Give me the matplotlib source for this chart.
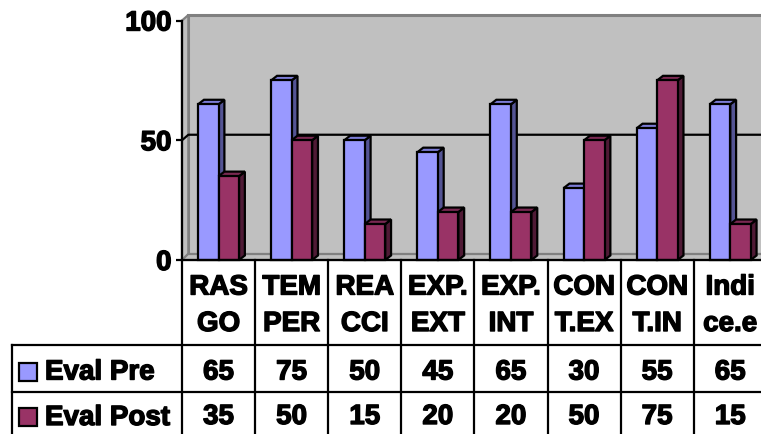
import matplotlib.pyplot as plt
from matplotlib.patches import Polygon, Rectangle
from matplotlib.transforms import blended_transform_factory
import matplotlib.patheffects as pe
import numpy as np

categories = ["RAS\nGO", "TEM\nPER", "REA\nCCI", "EXP.\nEXT", "EXP.\nINT",
              "CON\nT.EX", "CON\nT.IN", "Indi\nce.e"]
series_names = ["Eval Pre", "Eval Post"]
eval_pre = [65, 75, 50, 45, 65, 30, 55, 65]
eval_post = [35, 50, 15, 20, 20, 50, 75, 15]
y_ticks = [0, 50, 100]

# front / side / top shades for each series
front_colors = ["#9999FF", "#993366"]
side_colors = ["#545494", "#4F1A35"]
top_colors = ["#7C7CD6", "#7A2952"]
wall_color = "#C0C0C0"
wall_edge = "#808080"

W, H = 761, 434
plt.rcParams['font.family'] = ['Liberation Sans', 'DejaVu Sans']
plt.rcParams['font.weight'] = 'bold'
FS = 20
heavy = [pe.withStroke(linewidth=1.0, foreground='black')]
LW = 1.6

fig = plt.figure(figsize=(W / 100, H / 100), dpi=100)

# plot area in pixels: left edge 182, zero line at y=260, 100 at y=20.5
cat_px = 73.1
left_px, zero_px, top_px = 182, 260, 20.5
ax = fig.add_axes([left_px / W, 1 - zero_px / H,
                   (W - left_px) / W, (zero_px - top_px) / H])
xmax = (W - left_px) / cat_px
ax.set_xlim(0, xmax)
ax.set_ylim(0, 100)
ax.patch.set_visible(False)
for s in ['top', 'right']:
    ax.spines[s].set_visible(False)
for s in ['left', 'bottom']:
    ax.spines[s].set_linewidth(LW)
    ax.spines[s].set_zorder(6)
ax.set_xticks([])
ax.set_yticks(y_ticks)
ax.set_yticklabels([str(t) for t in y_ticks], fontsize=FS, fontweight='bold',
                   path_effects=heavy)
ax.tick_params(axis='y', length=4.5, width=LW, pad=3)

# walls and floor
wdx, wdy = 0.087, 2.3
side = Polygon([(0, 0), (wdx, wdy), (wdx, 100 + wdy), (0, 100)],
               facecolor=wall_color, edgecolor=wall_edge, lw=1.6,
               clip_on=False, zorder=1)
back = Rectangle((wdx, wdy), xmax - wdx + 1, 100, facecolor=wall_color,
                 edgecolor=wall_edge, lw=2.2, clip_on=False, zorder=1)
floor = Polygon([(0, 0), (xmax + 1, 0), (xmax + 1, wdy), (wdx, wdy)],
                facecolor=wall_color, edgecolor=wall_edge, lw=1.6,
                clip_on=False, zorder=1)
for p in (back, side, floor):
    ax.add_patch(p)
for t in y_ticks[1:-1]:
    ax.plot([0, wdx, xmax + 1], [t, t + wdy, t + wdy], color='black',
            lw=LW, clip_on=False, zorder=2)

# 3D columns
offsets = [0.22, 0.50]
bw = 0.28
bdx, bdy = 0.08, 1.9
x = np.arange(len(categories))
for i in range(len(categories)):
    for k, vals in enumerate([eval_pre, eval_post]):
        v = vals[i]
        x0 = x[i] + offsets[k]
        z = 3 + i * 0.1 + k * 0.05
        ax.bar(x0, v, width=bw, align='edge', color=front_colors[k],
               edgecolor='black', lw=LW, zorder=z + 0.02, clip_on=False)
        ax.add_patch(Polygon([(x0 + bw, 0), (x0 + bw + bdx, bdy),
                              (x0 + bw + bdx, v + bdy), (x0 + bw, v)],
                             facecolor=side_colors[k], edgecolor='black',
                             lw=LW, zorder=z, clip_on=False))
        ax.add_patch(Polygon([(x0, v), (x0 + bdx, v + bdy),
                              (x0 + bw + bdx, v + bdy), (x0 + bw, v)],
                             facecolor=top_colors[k], edgecolor='black',
                             lw=LW, zorder=z + 0.01, clip_on=False))

# data table under the plot
tr = blended_transform_factory(ax.transData, fig.transFigure)
fy = lambda py: 1 - py / H
row_lines = [345, 392]
for c in range(len(categories) + 1):
    ax.plot([c, c], [fy(zero_px), fy(H + 2)], color='black', lw=LW,
            transform=tr, clip_on=False)
for py in row_lines:
    fig.add_artist(plt.Line2D([11.5 / W, 1], [fy(py), fy(py)],
                              color='black', lw=LW))
fig.add_artist(plt.Line2D([11.5 / W, 11.5 / W], [fy(row_lines[0]), 0],
                          color='black', lw=LW))

txt = dict(transform=tr, ha='center', va='baseline', fontsize=FS,
           fontweight='bold', path_effects=heavy, clip_on=False)
for i, lab in enumerate(categories):
    l1, l2 = lab.split("\n")
    ax.text(x[i] + 0.5, fy(294.5), l1, **txt)
    ax.text(x[i] + 0.5, fy(331), l2, **txt)
    ax.text(x[i] + 0.5, fy(379.5), str(eval_pre[i]), **txt)
    ax.text(x[i] + 0.5, fy(424), str(eval_post[i]), **txt)

# series keys in the row headers
for k, (name, base) in enumerate(zip(series_names, [379.5, 425])):
    fig.add_artist(Rectangle((19 / W, fy(base + 1)), 18 / W, 18 / H,
                             facecolor=front_colors[k], edgecolor='black',
                             lw=LW, transform=fig.transFigure))
    fig.text(45 / W, fy(base), name, ha='left', va='baseline',
             fontsize=FS, fontweight='bold', path_effects=heavy)

fig.savefig("out.png", dpi=100)
